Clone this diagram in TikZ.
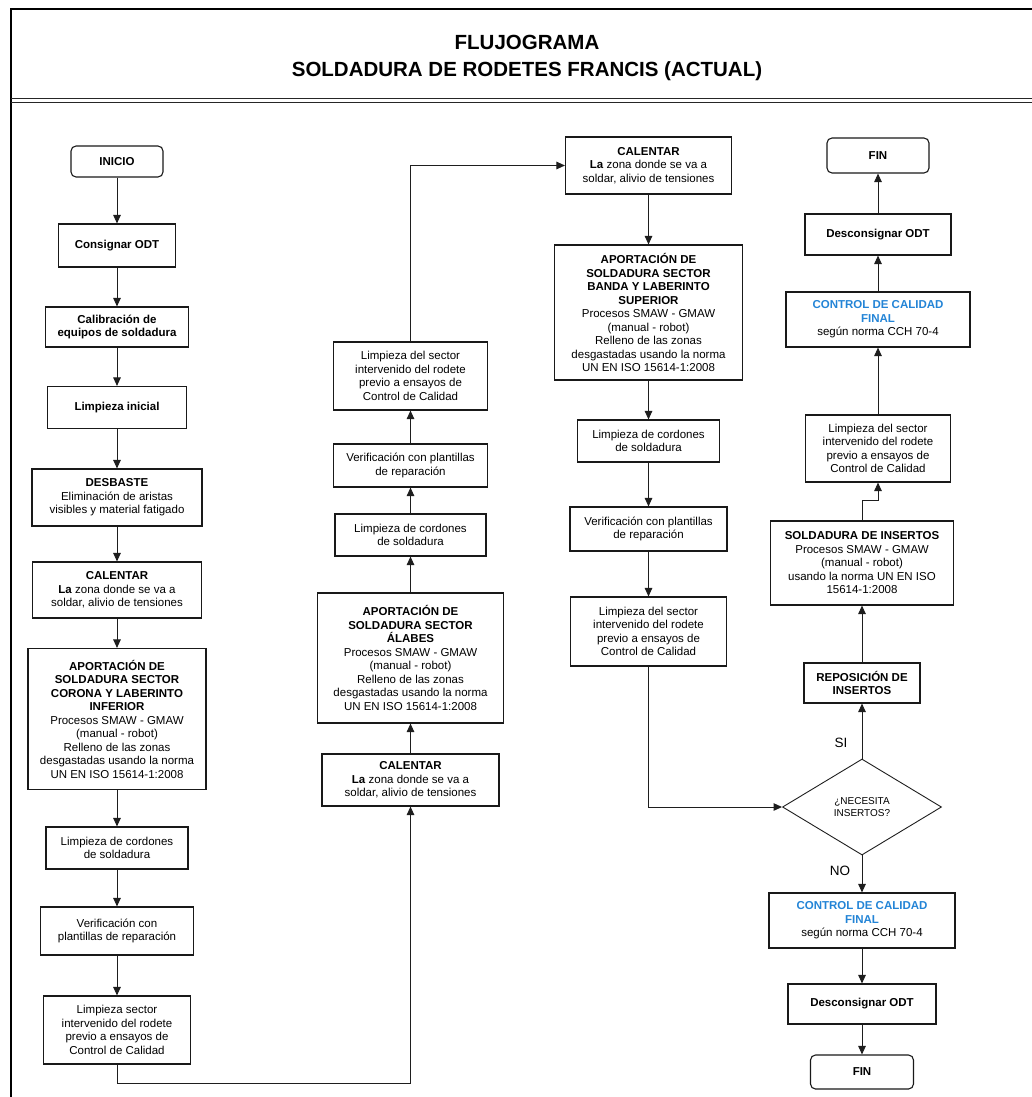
\documentclass[tikz,border=0pt]{standalone}
\usepackage{fontspec}
\setmainfont{Liberation Sans}
\usetikzlibrary{arrows.meta,shapes.geometric}
\definecolor{cblue}{RGB}{35,132,214}
\definecolor{lnc}{RGB}{30,30,30}
\newcommand{\fsz}{\fontsize{11.5}{13.5}\selectfont}
\begin{document}
\begin{tikzpicture}[x=1pt,y=-1pt,
  box/.style={draw=black!90, line width=1.1pt, align=center, inner sep=1pt, font=\fsz},
  term/.style={box, rounded corners=5pt, font=\fsz\bfseries},
  arr/.style={draw=lnc, line width=1pt, -{Triangle[length=8.5pt,width=7.5pt]}},
  lbl/.style={font=\fontsize{13.5}{15}\selectfont, inner sep=0pt},
  frame/.style={draw=black, line width=2pt},
  thin/.style={draw=black!85, line width=1pt}
]
\useasboundingbox (0,0) rectangle (1032,1097);
% frame
\draw[frame] (11,1100) -- (11,9) -- (1040,9);
\draw[thin] (11,99) -- (1040,99);
\draw[thin] (11,103) -- (1040,103);
\node[font=\fontsize{20.5}{27}\selectfont\bfseries, align=center] (title) at (527,58)
  {FLUJOGRAMA\\SOLDADURA DE RODETES FRANCIS (ACTUAL)};

% column 1
\node[term, minimum width=92, minimum height=31] (inicio) at (117,161.5) {INICIO};
\node[box, font=\fsz\bfseries, minimum width=117, minimum height=43] (consig) at (117,245.5) {Consignar ODT};
\node[box, font=\fsz\bfseries, minimum width=143, minimum height=40] (calib) at (117,327) {Calibración de\\equipos de soldadura};
\node[box, font=\fsz\bfseries, minimum width=139, minimum height=42] (limpini) at (117,407.5) {Limpieza inicial};
\node[box, minimum width=170, minimum height=57] (desb) at (117,497.5) {\textbf{DESBASTE}\\Eliminación de aristas\\visibles y material fatigado};
\node[box, minimum width=169, minimum height=56] (cal1) at (117,590) {\textbf{CALENTAR}\\\textbf{La} zona donde se va a\\soldar, alivio de tensiones};
\node[box, minimum width=178, minimum height=141] (aport1) at (117,719) {\textbf{APORTACIÓN DE}\\\textbf{SOLDADURA SECTOR}\\\textbf{CORONA Y LABERINTO}\\\textbf{INFERIOR}\\Procesos SMAW - GMAW\\(manual - robot)\\Relleno de las zonas\\desgastadas usando la norma\\UN EN ISO 15614-1:2008};
\node[box, minimum width=142, minimum height=42] (cord1) at (117,848) {Limpieza de cordones\\de soldadura};
\node[box, minimum width=153, minimum height=48] (verif1) at (117,931) {Verificación con\\plantillas de reparación};
\node[box, minimum width=147, minimum height=68] (limp1) at (117,1030) {Limpieza sector\\intervenido del rodete\\previo a ensayos de\\Control de Calidad};

% column 2
\node[box, minimum width=177, minimum height=52] (cal2) at (410.5,780) {\textbf{CALENTAR}\\\textbf{La} zona donde se va a\\soldar, alivio de tensiones};
\node[box, minimum width=186, minimum height=130] (aport2) at (410.5,658) {\textbf{APORTACIÓN DE}\\\textbf{SOLDADURA SECTOR}\\\textbf{ÁLABES}\\Procesos SMAW - GMAW\\(manual - robot)\\Relleno de las zonas\\desgastadas usando la norma\\UN EN ISO 15614-1:2008};
\node[box, minimum width=151, minimum height=42] (cord2) at (410.5,535) {Limpieza de cordones\\de soldadura};
\node[box, minimum width=154, minimum height=43] (verif2) at (410.5,465.5) {Verificación con plantillas\\de reparación};
\node[box, minimum width=154, minimum height=68] (limp2) at (410.5,376) {Limpieza del sector\\intervenido del rodete\\previo a ensayos de\\Control de Calidad};

% column 3
\node[box, minimum width=166, minimum height=57] (cal3) at (648.5,165.5) {\textbf{CALENTAR}\\\textbf{La} zona donde se va a\\soldar, alivio de tensiones};
\node[box, minimum width=188, minimum height=135] (aport3) at (648.5,312.5) {\textbf{APORTACIÓN DE}\\\textbf{SOLDADURA SECTOR}\\\textbf{BANDA Y LABERINTO}\\\textbf{SUPERIOR}\\Procesos SMAW - GMAW\\(manual - robot)\\Relleno de las zonas\\desgastadas usando la norma\\UN EN ISO 15614-1:2008};
\node[box, minimum width=142, minimum height=42] (cord3) at (648.5,441) {Limpieza de cordones\\de soldadura};
\node[box, minimum width=157, minimum height=44] (verif3) at (648.5,529) {Verificación con plantillas\\de reparación};
\node[box, minimum width=156, minimum height=69] (limp3) at (648.5,631.5) {Limpieza del sector\\intervenido del rodete\\previo a ensayos de\\Control de Calidad};

% column 4
\node[diamond, draw=lnc, line width=0.9pt, minimum width=159, minimum height=96, inner sep=0pt, align=center, font=\fontsize{10}{12}\selectfont] (dia) at (862,807) {¿NECESITA\\INSERTOS?};
\node[box, minimum width=116, minimum height=40] (repos) at (862,683) {\textbf{REPOSICIÓN DE}\\\textbf{INSERTOS}};
\node[box, minimum width=183, minimum height=84] (sold) at (862,563) {\textbf{SOLDADURA DE INSERTOS}\\Procesos SMAW - GMAW\\(manual - robot)\\usando la norma UN EN ISO\\15614-1:2008};
\node[box, minimum width=145, minimum height=67] (limp4) at (878,448.5) {Limpieza del sector\\intervenido del rodete\\previo a ensayos de\\Control de Calidad};
\node[box, minimum width=184, minimum height=55] (ccf1) at (878,319.5) {\textcolor{cblue}{\textbf{CONTROL DE CALIDAD}}\\\textcolor{cblue}{\textbf{FINAL}}\\según norma CCH 70-4};
\node[box, font=\fsz\bfseries, minimum width=146, minimum height=41] (desc1) at (878,234.5) {Desconsignar ODT};
\node[term, minimum width=102, minimum height=35] (fin1) at (878,155.5) {FIN};

\node[box, minimum width=186, minimum height=55] (ccf2) at (862,920.5) {\textcolor{cblue}{\textbf{CONTROL DE CALIDAD}}\\\textcolor{cblue}{\textbf{FINAL}}\\según norma CCH 70-4};
\node[box, font=\fsz\bfseries, minimum width=148, minimum height=40] (desc2) at (862,1004) {Desconsignar ODT};
\node[term, minimum width=103, minimum height=34] (fin2) at (862,1072) {FIN};

\node[lbl] (si) at (841,743) {SI};
\node[lbl] (no) at (840,871) {NO};

% connectors column 1
\draw[arr] (inicio) -- (consig);
\draw[arr] (consig) -- (calib);
\draw[arr] (calib) -- (limpini);
\draw[arr] (limpini) -- (desb);
\draw[arr] (desb) -- (cal1);
\draw[arr] (cal1) -- (aport1);
\draw[arr] (aport1) -- (cord1);
\draw[arr] (cord1) -- (verif1);
\draw[arr] (verif1) -- (limp1);
\draw[arr] (limp1.south) -- ++(0,19) -| (cal2.south);
% column 2
\draw[arr] (cal2) -- (aport2);
\draw[arr] (aport2) -- (cord2);
\draw[arr] (cord2) -- (verif2);
\draw[arr] (verif2) -- (limp2);
\draw[arr] (limp2.north) |- (cal3.west);
% column 3
\draw[arr] (cal3) -- (aport3);
\draw[arr] (aport3) -- (cord3);
\draw[arr] (cord3) -- (verif3);
\draw[arr] (verif3) -- (limp3);
\draw[arr] (limp3.south) |- (dia.west);
% column 4
\draw[arr] (dia.north) -- (repos.south);
\draw[arr] (repos) -- (sold);
\draw[arr] (sold.north) -- ++(0,-19.5) -| (limp4.south);
\draw[arr] (limp4) -- (ccf1);
\draw[arr] (ccf1) -- (desc1);
\draw[arr] (desc1) -- (fin1);
\draw[arr] (dia.south) -- (ccf2.north);
\draw[arr] (ccf2) -- (desc2);
\draw[arr] (desc2) -- (fin2);
\end{tikzpicture}
\end{document}
